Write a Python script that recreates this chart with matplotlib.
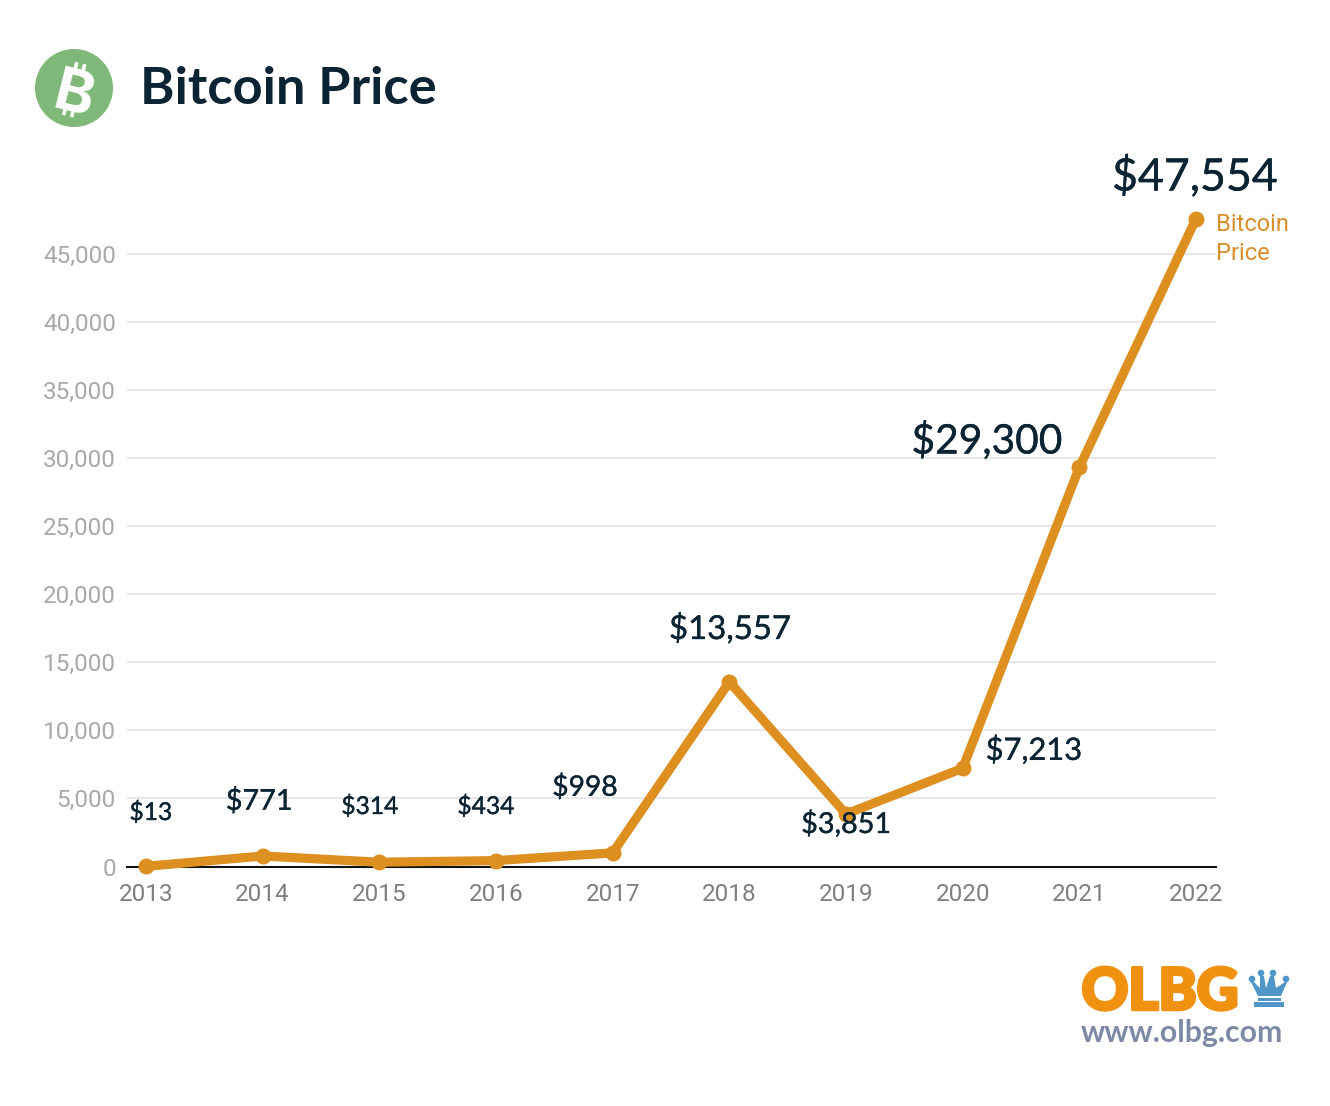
import matplotlib
matplotlib.use('Agg')
import matplotlib.pyplot as plt
import matplotlib.patheffects as pe
from matplotlib.patches import Circle, Polygon, Rectangle

years = [2013, 2014, 2015, 2016, 2017, 2018, 2019, 2020, 2021, 2022]
prices = [13, 771, 314, 434, 998, 13557, 3851, 7213, 29300, 47554]
y_ticks = [0, 5000, 10000, 15000, 20000, 25000, 30000, 35000, 40000, 45000]
price_labels = ['$13', '$771', '$314', '$434', '$998', '$13,557', '$3,851', '$7,213', '$29,300', '$47,554']

W, H = 1330, 1106
LINE = '#dd8f20'
DARK = '#0b2433'

fig = plt.figure(figsize=(W / 100, H / 100), dpi=100, facecolor='white')

# main chart, box placed in pixels
left, right, top, bottom = 127, 1216, 200, 866.5
ax = fig.add_axes([left / W, 1 - bottom / H, (right - left) / W, (bottom - top) / H])
px_year = (1196 - 146) / 9
px_val = (866.5 - 253.5) / 45000
ax.set_xlim(2013 - (146 - left) / px_year, 2013 + (right - 146) / px_year)
ax.set_ylim(0, (bottom - top) / px_val)

ax.plot(years, prices, color=LINE, lw=6.6, marker='o', ms=10.5, solid_joinstyle='miter', clip_on=False, zorder=5)

for s in ['top', 'left', 'right']:
    ax.spines[s].set_visible(False)
ax.spines['bottom'].set_color('#111111')
ax.spines['bottom'].set_linewidth(1.5)
ax.set_xticks(years)
ax.set_yticks(y_ticks)
ax.set_yticklabels([f'{v:,}' for v in y_ticks])
ax.grid(axis='y', color='#e8e8e8', lw=1.5)
ax.set_axisbelow(True)
ax.tick_params(axis='x', length=0, pad=12, labelsize=17.5, labelcolor='#7f7f7f')
ax.tick_params(axis='y', length=0, pad=8, labelsize=17.5, labelcolor='#a9a9a9')
for t in ax.get_xticklabels() + ax.get_yticklabels():
    t.set_fontfamily('Roboto')

# overlay in pixel coordinates for labels and logos
ov = fig.add_axes([0, 0, 1, 1], facecolor='none')
ov.set_xlim(0, W)
ov.set_ylim(H, 0)
ov.axis('off')

label_pos = [(151, 812), (259, 801), (370, 806), (486, 806), (585, 787), (730, 629), (846, 824), (1034, 750), (987, 441), (1195, 177)]
label_size = [17.7, 20.7, 17.7, 17.7, 20.3, 23.7, 20.7, 22.2, 29.3, 32.2]
for lab, pos, size in zip(price_labels, label_pos, label_size):
    ov.text(pos[0], pos[1], lab, family='Lato', fontsize=size, color=DARK, ha='center', va='center', zorder=10,
            path_effects=[pe.withStroke(linewidth=0.25, foreground=DARK)])

ov.text(1216, 239, 'Bitcoin\nPrice', family='Roboto', fontsize=17, color='#d98f2a', ha='left', va='center', linespacing=1.3)

# title + bitcoin logo
ov.add_patch(Circle((74, 88), 39, color='#7fb878', lw=0))
ov.text(73, 96, '\u20bf', family=['Inter', 'Noto Sans', 'Roboto', 'Open Sans', 'DejaVu Sans'], fontweight='bold', fontsize=43,
        color='white', rotation=-14, ha='center', va='center')
ov.text(140, 89, 'Bitcoin Price', family='Lato', fontweight='bold', fontsize=37.7, color=DARK, ha='left', va='center')

# OLBG logo
ov.text(1160, 993, 'OLBG', family='Lato', fontweight='black', fontsize=41.5, color='#f0920f', ha='center', va='center',
        path_effects=[pe.withStroke(linewidth=2.5, foreground='#f0920f')])
ov.text(1182, 1033, 'www.olbg.com', family='Lato', fontweight='bold', fontsize=21.8, color='#7d8aa6', ha='center', va='center')

CROWN = '#4f97c9'
ov.add_patch(Polygon([(1254, 982), (1250, 980), (1258, 996), (1281, 996), (1288, 980), (1276, 988),
                      (1274, 976), (1270, 976), (1266, 988), (1264, 976), (1260, 976), (1260, 988)],
                     closed=True, color=CROWN, lw=0))
for cx, cy in [(1252, 979), (1261, 973), (1273, 973), (1286, 979)]:
    ov.add_patch(Circle((cx, cy), 3.3, color=CROWN, lw=0))
ov.add_patch(Rectangle((1258, 998), 23, 3, color=CROWN, lw=0))
ov.add_patch(Rectangle((1254, 1002), 30, 4.5, color=CROWN, lw=0))

fig.savefig('out.png', dpi=100)
